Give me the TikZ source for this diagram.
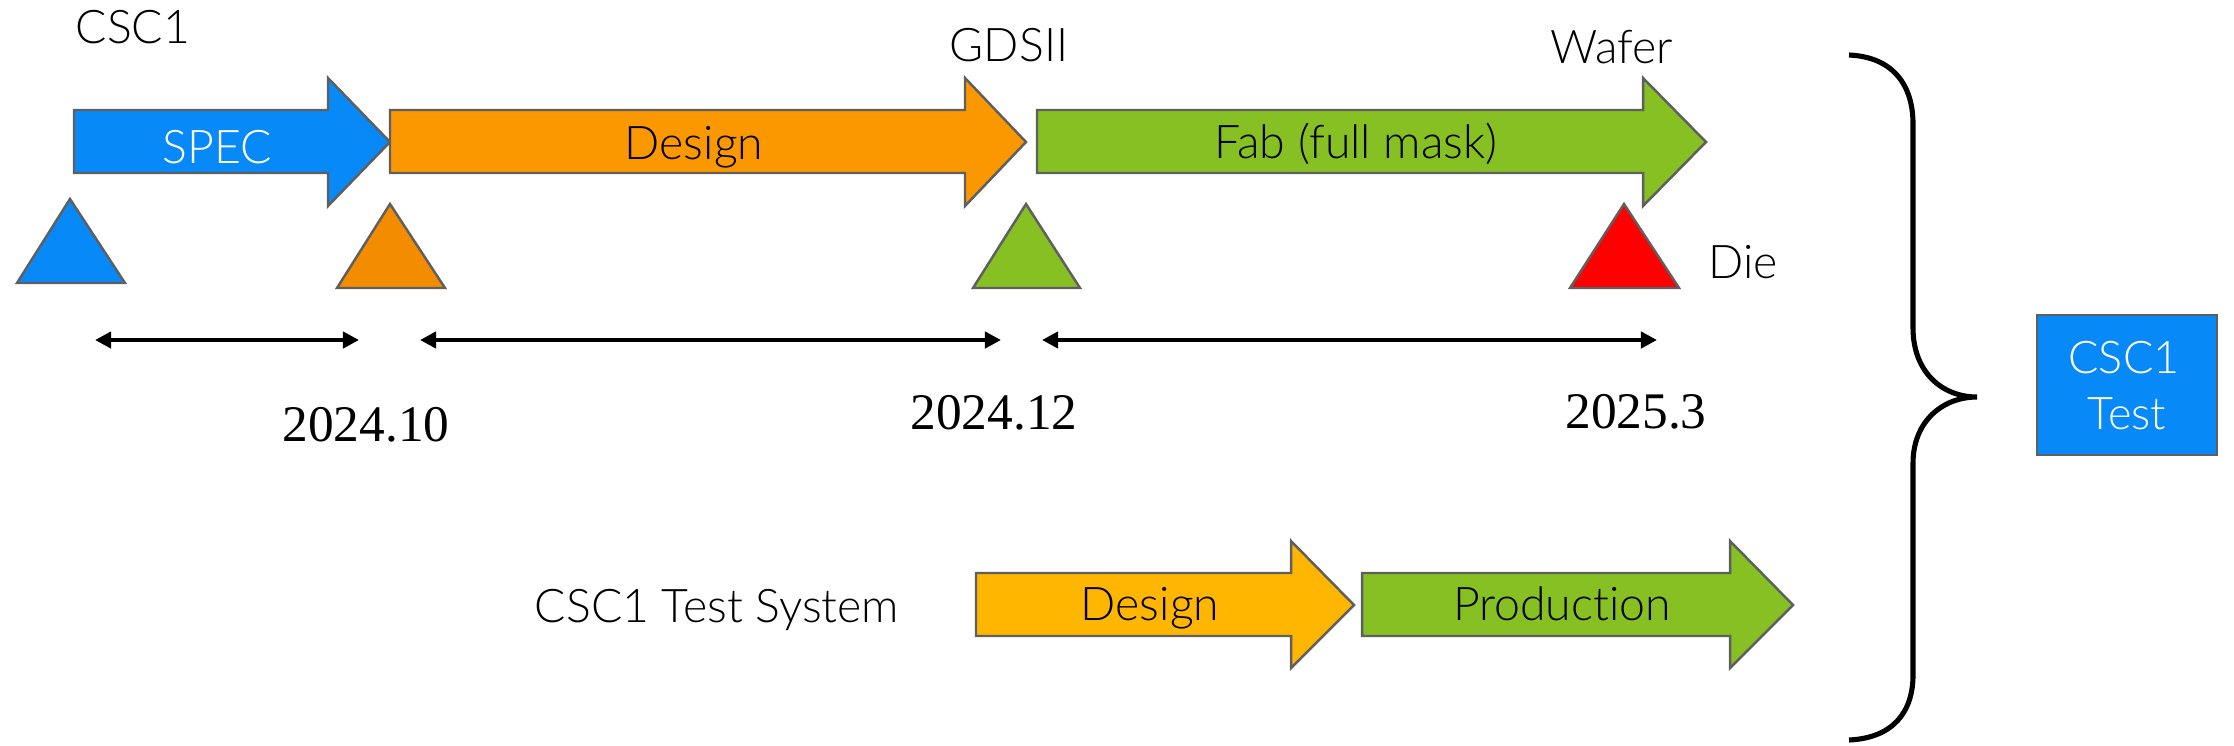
\documentclass[tikz,border=0pt]{standalone}
\usepackage{fontspec}
\setmainfont{Lato Light}[Ligatures=NoCommon]
\newfontfamily\datefont{Liberation Serif}
\usetikzlibrary{arrows.meta}
\definecolor{specblue}{RGB}{8,137,248}
\definecolor{designorange}{RGB}{251,152,0}
\definecolor{markorange}{RGB}{244,140,0}
\definecolor{fabgreen}{RGB}{134,192,34}
\definecolor{dieRed}{RGB}{255,0,0}
\definecolor{testyellow}{RGB}{255,182,0}
\definecolor{edgegray}{RGB}{95,95,95}
\begin{document}
\begin{tikzpicture}[x=0.01cm,y=-0.01cm,
  phase/.style={draw=edgegray,line width=0.7pt,line join=miter},
  milestone/.style={draw=edgegray,line width=0.7pt},
  lbl/.style={inner sep=0pt,anchor=base,font=\fontsize{13.2pt}{16pt}\selectfont},
  datelbl/.style={inner sep=0pt,anchor=base,font=\datefont\fontsize{14.6pt}{17pt}\selectfont},
  span/.style={black,line width=1.2pt,{Triangle[length=4.6pt,width=4.6pt]}-{Triangle[length=4.6pt,width=4.6pt]}},
  testbox/.style={draw=edgegray,line width=0.7pt,fill=specblue,minimum width=1.8cm,minimum height=1.4cm,inner sep=0pt},
]
\useasboundingbox (0,0) rectangle (2234,745);

% main project phases
\draw[phase,fill=specblue] (74,110) -- (328,110) -- (328,78) -- (390,142) -- (328,206) -- (328,173) -- (74,173) -- cycle;
\draw[phase,fill=designorange] (390,110) -- (965,110) -- (965,78) -- (1026,142) -- (965,206) -- (965,173) -- (390,173) -- cycle;
\draw[phase,fill=fabgreen] (1037,110) -- (1643,110) -- (1643,78) -- (1706,142) -- (1643,206) -- (1643,173) -- (1037,173) -- cycle;
\node[lbl,white] (spec) at (217,163) {SPEC};
\node[lbl] (design) at (694,159) {Design};
\node[lbl] (fab) at (1356,158) {Fab (full mask)};

% milestone labels
\node[lbl] (csc) at (133,43) {CSC1};
\node[lbl] (gds) at (1009,61) {GDSII};
\node[lbl] (wafer) at (1612,63) {Wafer};
\node[lbl,anchor=base west] (die) at (1708,278) {Die};

% milestone markers
\draw[milestone,fill=specblue] (70,199) -- (125,283) -- (17,283) -- cycle;
\draw[milestone,fill=markorange] (390,204) -- (445,288) -- (337,288) -- cycle;
\draw[milestone,fill=fabgreen] (1026,204) -- (1080,288) -- (973,288) -- cycle;
\draw[milestone,fill=dieRed] (1624,204) -- (1679,288) -- (1570,288) -- cycle;

% durations
\coordinate (s1a) at (95,340);
\coordinate (s1b) at (359,340);
\coordinate (s2a) at (420,340);
\coordinate (s2b) at (1001,340);
\coordinate (s3a) at (1042,340);
\coordinate (s3b) at (1657,340);
\draw[span] (s1a) -- (s1b);
\draw[span] (s2a) -- (s2b);
\draw[span] (s3a) -- (s3b);

% dates
\node[datelbl] (d1) at (366,441) {2024.10};
\node[datelbl] (d2) at (994,429) {2024.12};
\node[datelbl] (d3) at (1636,428) {2025.3};

% test system track
\node[lbl] (tsys) at (717,622) {CSC1 Test System};
\draw[phase,fill=testyellow] (976,573) -- (1291,573) -- (1291,541) -- (1354,605) -- (1291,668) -- (1291,636) -- (976,636) -- cycle;
\draw[phase,fill=fabgreen] (1362,573) -- (1730,573) -- (1730,541) -- (1793,605) -- (1730,668) -- (1730,636) -- (1362,636) -- cycle;
\node[lbl] (tdesign) at (1150,620) {Design};
\node[lbl] (tprod) at (1562,620) {Production};

% brace gathering both tracks
\draw[line width=1.45pt] (1849,55) .. controls (1893,57) and (1913,85) .. (1913,124) -- (1913,328)
  .. controls (1913,372) and (1942,397) .. (1977,397)
  .. controls (1942,397) and (1913,422) .. (1913,463) -- (1913,675)
  .. controls (1913,712) and (1893,738) .. (1849,740);

% final test box
\node[testbox] (test) at (2127,385) {};
\node[lbl,white,font=\fontsize{12.8pt}{16pt}\selectfont] (testa) at (2124,373) {CSC1};
\node[lbl,white,font=\fontsize{12.8pt}{16pt}\selectfont] (testb) at (2127,429) {Test};
\end{tikzpicture}
\end{document}
